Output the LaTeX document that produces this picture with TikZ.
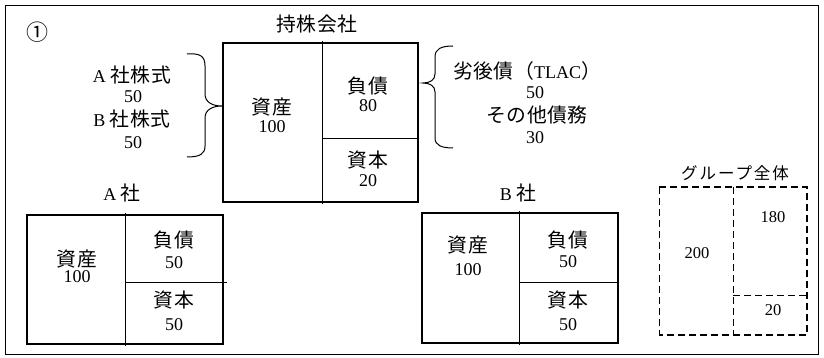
\documentclass[tikz,border=0pt]{standalone}
\usepackage{fontspec}
\setmainfont{Liberation Serif}
\newfontfamily\jp[Scale=1.1,LetterSpace=3]{Noto Sans CJK JP}
\newfontfamily\jpsm[Scale=1.0,LetterSpace=12]{Noto Sans CJK JP}
\begin{document}
\begin{tikzpicture}[x=1pt,y=-1pt,
  txt/.style={inner sep=0pt,font=\fontsize{18}{20}\selectfont},
  small/.style={inner sep=0pt,font=\fontsize{16.5}{18}\selectfont},
  thickbox/.style={line width=2.6pt},
  thinline/.style={line width=0.9pt},
  dashbox/.style={line width=1.8pt,dash pattern=on 7pt off 4pt},
  thindash/.style={line width=1pt,dash pattern=on 7pt off 4pt},
  bracestyle/.style={line width=1pt}]
\useasboundingbox (0,0) rectangle (824,358);
% outer frame
\draw[line width=1.5pt] (5.5,5.5) rectangle (818.5,354.5);
\node[inner sep=0pt,font=\fontsize{20}{22}\selectfont] (one) at (38,32) {\jp ①};

% holding company
\node[txt] (hctitle) at (317,24) {\jp 持株会社};
\coordinate (hcA) at (223,43);
\coordinate (hcB) at (418,202);
\draw[thinline] (322,41) -- (322,204);
\draw[thinline] (322,138) -- (418,138);
\draw[thickbox] (hcA) rectangle (hcB);
\node[txt] (hcas) at (272,107) {\jp 資産};
\node[txt] (hcasv) at (272,127) {100};
\node[txt] (hcli) at (368,86) {\jp 負債};
\node[txt] (hcliv) at (368,106) {80};
\node[txt] (hceq) at (368,160) {\jp 資本};
\node[txt] (hceqv) at (368,181) {20};

% left brace and text
\draw[bracestyle] (187,54) .. controls (200,53) and (205,56) .. (205,66)
  -- (205,94) .. controls (205,102) and (212,106) .. (222,106)
  .. controls (212,106) and (205,110) .. (205,118)
  -- (205,146) .. controls (205,154) and (200,157) .. (187,157);
\node[txt] (ash) at (132,75) {A {\jp 社株式}};
\node[txt] (ashv) at (133,97) {50};
\node[txt] (bsh) at (132,119) {B {\jp 社株式}};
\node[txt] (bshv) at (133,143) {50};

% right brace and text
\draw[bracestyle] (453,46) .. controls (441,46) and (435,49) .. (435,57)
  -- (435,74) .. controls (435,80) and (430,83) .. (423,83)
  .. controls (430,83) and (435,86) .. (435,92)
  -- (435,138) .. controls (435,145) and (441,148) .. (453,148);
\node[txt] (tlac) at (527,71) {{\jp 劣後債（}TLAC{\jp ）}};
\node[txt] (tlacv) at (535,93) {50};
\node[txt] (oth) at (537,115) {\jp その他債務};
\node[txt] (othv) at (535,138) {30};

% A company
\node[txt] (atitle) at (122,193) {A {\jp 社}};
\draw[thinline] (125,213) -- (125,346);
\draw[thinline] (125,282) -- (227,282);
\draw[thickbox] (27,215) rectangle (223,344);
\node[txt] (aas) at (77,259) {\jp 資産};
\node[txt] (aasv) at (77,277) {100};
\node[txt] (ali) at (174,240) {\jp 負債};
\node[txt] (aliv) at (174,263) {50};
\node[txt] (aeq) at (174,300) {\jp 資本};
\node[txt] (aeqv) at (174,325) {50};

% B company
\node[txt] (btitle) at (518,193) {B {\jp 社}};
\draw[thinline] (519,211) -- (519,345);
\draw[thinline] (519,282) -- (618,282);
\draw[thickbox] (422,213) rectangle (618,343);
\node[txt] (bas) at (468,245) {\jp 資産};
\node[txt] (basv) at (468,270) {100};
\node[txt] (bli) at (568,240) {\jp 負債};
\node[txt] (bliv) at (568,262) {50};
\node[txt] (beq) at (568,300) {\jp 資本};
\node[txt] (beqv) at (568,325) {50};

% group total
\node[small] (gtitle) at (735,173) {\jpsm グループ全体};
\draw[dashbox] (659,187) -- (807,187) -- (807,335) -- (659,335);
\draw[thindash] (659,187) -- (659,335);
\draw[thindash] (733,187) -- (733,335);
\draw[thindash] (733,295) -- (807,295);
\node[small] (gall) at (697,253) {200};
\node[small] (gli) at (773,217) {180};
\node[small] (geq) at (773,310) {20};
\end{tikzpicture}
\end{document}
